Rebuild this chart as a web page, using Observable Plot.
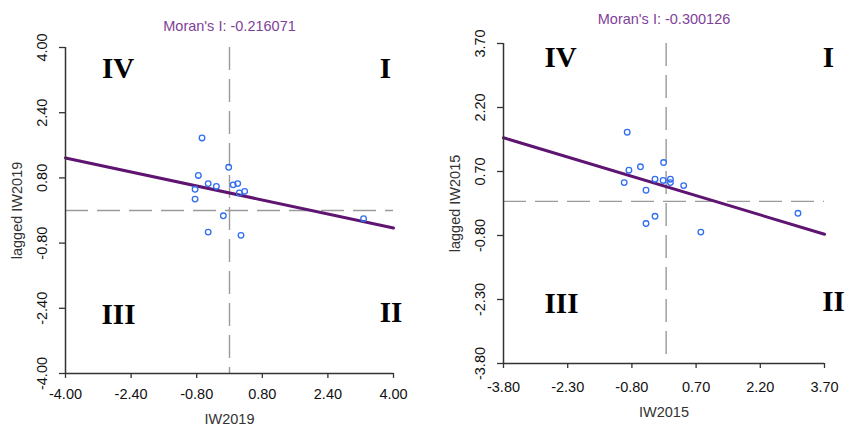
<!DOCTYPE html>
<html><head><meta charset="utf-8">
<script src="https://cdn.jsdelivr.net/npm/d3@7"></script>
<script src="https://cdn.jsdelivr.net/npm/@observablehq/plot@0.6"></script>
<style>
body{margin:0;background:#fff;}
#wrap{display:flex;width:846px;height:426px;overflow:hidden;}
#wrap svg{display:block;overflow:visible;}
</style></head><body><div id="wrap"></div>
<script>
// ---- Data ----
const iw2019  = [-0.67, -0.02, -0.76, -0.52, -0.32, -0.84, -0.84, 0.09, 0.20, 0.24, 0.37, -0.15, -0.52, 0.28, 3.27];
const lag2019 = [ 1.78,  1.06,  0.86,  0.66,  0.59,  0.52,  0.28, 0.63, 0.66, 0.43, 0.47, -0.13, -0.53, -0.61, -0.20];
const iw2015  = [-0.91, -0.06, -0.60, -0.87, -0.98, -0.26, -0.07, 0.10, 0.10, 0.41, -0.47, -0.26, -0.47, 0.81, 3.08];
const lag2015 = [ 1.62,  0.91,  0.81,  0.73,  0.44,  0.52,  0.49, 0.52, 0.44, 0.37,  0.26, -0.35, -0.52, -0.72, -0.28];
const ticks2019 = [-4.00, -2.40, -0.80, 0.80, 2.40, 4.00];
const ticks2015 = [-3.80, -2.30, -0.80, 0.70, 2.20, 3.70];
const fit2019X = [-4.00, 4.00];
const fit2019Y = [1.29, -0.43];
const fit2015X = [-3.80, 3.70];
const fit2015Y = [1.49, -0.77];
const titles = ["Moran's I: -0.216071", "Moran's I: -0.300126"];
const xLabels = ["IW2019", "IW2015"];
const yLabels = ["lagged IW2019", "lagged IW2015"];
const quadrants = ["I", "II", "III", "IV"];

const SANS = "'Liberation Sans', Arial, Helvetica, sans-serif";
const SERIF = "'Liberation Serif', 'Times New Roman', serif";

function panel(o) {
  const pts = o.xs.map((x, i) => ({x, y: o.ys[i]}));
  const fit = o.fitX.map((x, i) => ({x, y: o.fitY[i]}));
  const fmt = d => d.toFixed(2);
  const dom = [o.ticks[0], o.ticks[o.ticks.length - 1]];
  const q = (label, anchor, dx, dy) => Plot.text([label], {
    frameAnchor: anchor, dx, dy, textAnchor: "middle", lineAnchor: "middle",
    fontFamily: SERIF, fontWeight: "bold", fontSize: 29, fill: "#000"
  });
  return Plot.plot({
    width: o.w, height: 426,
    marginLeft: o.ml, marginRight: o.mr, marginTop: o.mt, marginBottom: o.mb,
    x: {domain: dom}, y: {domain: dom},
    style: {fontFamily: SANS, background: "white", overflow: "visible"},
    marks: [
      Plot.ruleY([0], {stroke: "#9a9a9a", strokeWidth: 1.4, strokeDasharray: "23,9"}),
      Plot.ruleX([0], {stroke: "#9a9a9a", strokeWidth: 1.4, strokeDasharray: "23,9"}),
      Plot.line(fit, {x: "x", y: "y", stroke: "#5e1470", strokeWidth: 3}),
      Plot.dot(pts, {x: "x", y: "y", r: 2.8, stroke: "#2f6ef2", strokeWidth: 1.3, fill: "none"}),
      Plot.ruleX([dom[0]], {stroke: "#333", strokeWidth: 1.5}),
      Plot.ruleY([dom[0]], {stroke: "#333", strokeWidth: 1.5}),
      Plot.axisX({ticks: o.ticks, tickSize: 5, tickFormat: () => "", label: null, stroke: "#333", strokeWidth: 1.3}),
      Plot.axisY({ticks: o.ticks, tickSize: 6, tickFormat: () => "", label: null, stroke: "#333", strokeWidth: 1.3}),
      Plot.text(o.ticks, {x: d => d, text: fmt, frameAnchor: "bottom", dy: o.xTickDy, lineAnchor: "middle", fontSize: 14.5, fill: "#111"}),
      Plot.text(o.ticks, {y: d => d, text: fmt, frameAnchor: "left", dx: o.yTickDx, rotate: -90, textAnchor: "middle", lineAnchor: "middle", fontSize: 14.5, fill: "#111"}),
      Plot.text([o.xLabel], {frameAnchor: "bottom", dy: o.xLabDy, lineAnchor: "middle", fontSize: 14.5, fill: "#333"}),
      Plot.text([o.yLabel], {frameAnchor: "left", dx: o.yLabDx, rotate: -90, textAnchor: "middle", lineAnchor: "middle", fontSize: 14.5, fill: "#333"}),
      Plot.text([o.title], {frameAnchor: "top", dy: o.titleDy, lineAnchor: "middle", fontSize: 14.5, fill: "#7f3f98"}),
      q(quadrants[3], "top-left", o.q[0][0], o.q[0][1]),
      q(quadrants[0], "top-right", o.q[1][0], o.q[1][1]),
      q(quadrants[2], "bottom-left", o.q[2][0], o.q[2][1]),
      q(quadrants[1], "bottom-right", o.q[3][0], o.q[3][1])
    ]
  });
}

const wrap = document.getElementById("wrap");
wrap.appendChild(panel({
  w: 420, ml: 65, mr: 27, mt: 47, mb: 53,
  ticks: ticks2019, xs: iw2019, ys: lag2019, fitX: fit2019X, fitY: fit2019Y,
  title: titles[0], xLabel: xLabels[0], yLabel: yLabels[0],
  xTickDy: 21, yTickDx: -22.9, xLabDy: 45.6, yLabDx: -47.7, titleDy: -21.4,
  q: [[52.5, 21], [-8, 21], [53, -59], [-2.5, -61]]
}));
wrap.appendChild(panel({
  w: 426, ml: 83, mr: 22, mt: 43, mb: 63,
  ticks: ticks2015, xs: iw2015, ys: lag2015, fitX: fit2015X, fitY: fit2015Y,
  title: titles[1], xLabel: xLabels[1], yLabel: yLabels[1],
  xTickDy: 23.6, yTickDx: -23.4, xLabDy: 48.6, yLabDx: -48.6, titleDy: -24,
  q: [[57, 14], [4, 14], [58, -60], [9, -61.5]]
}));
</script></body></html>
